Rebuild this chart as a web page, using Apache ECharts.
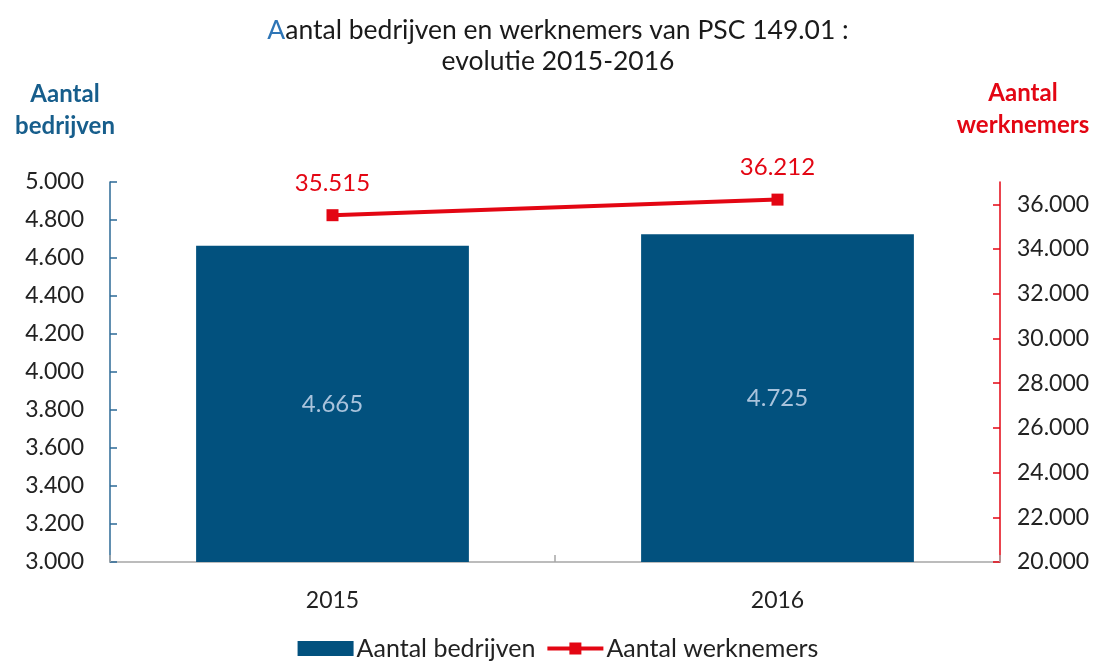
<!DOCTYPE html>
<html>
<head>
<meta charset="utf-8">
<script src="https://cdn.jsdelivr.net/npm/echarts@6/dist/echarts.min.js"></script>
<style>
  html, body { margin: 0; padding: 0; background: #fff; }
  #chart { width: 1116px; height: 666px; }
</style>
</head>
<body>
<div id="chart"></div>
<script>
// ── data ──
const years = ['2015', '2016'];
const bedrijven = [4665, 4725];
const werknemers = [35515, 36212];
const rightTicks = [20000, 22000, 24000, 26000, 28000, 30000, 32000, 34000, 36000];

const FONT = 'Lato, "Open Sans", sans-serif';
const BLUE = '#02517e';
const RED = '#e30613';

// 1234 -> "1.234"
const fmt = v => String(v).replace(/\B(?=(\d{3})+(?!\d))/g, '.');

const chart = echarts.init(document.getElementById('chart'));
chart.setOption({
  animation: false,
  textStyle: { fontFamily: FONT },
  title: {
    text: '{a|A}antal bedrijven en werknemers van PSC 149.01 :\nevolutie 2015-2016',
    left: 'center', top: 10,
    textStyle: {
      fontFamily: FONT, fontSize: 26.5, fontWeight: 'normal', color: '#1a1a1a', lineHeight: 31,
      rich: { a: { color: '#2e75b6', fontSize: 26.5, fontFamily: FONT } }
    }
  },
  grid: { left: 110, right: 116, top: 182, bottom: 104 },
  legend: {
    bottom: 0, left: 'center', itemGap: 10,
    textStyle: { fontFamily: FONT, fontSize: 25, color: '#222', padding: [0, 0, 0, -2] },
    data: [
      { name: 'Aantal bedrijven', icon: 'rect', itemStyle: { color: BLUE } },
      { name: 'Aantal werknemers', lineStyle: { width: 4, color: RED } }
    ],
    itemWidth: 56, itemHeight: 15
  },
  xAxis: {
    type: 'category', data: years,
    axisLine: { lineStyle: { color: '#a6a6a6', width: 1.5 } },
    axisTick: { show: true, inside: true, length: 7, lineStyle: { color: '#a6a6a6', width: 1.5 } },
    axisLabel: { fontSize: 23, color: '#222', margin: 27, fontFamily: FONT }
  },
  yAxis: [
    {
      type: 'value', min: 3000, max: 5000, interval: 200,
      name: 'Aantal\nbedrijven', nameLocation: 'end', nameGap: 0,
      nameTextStyle: { fontSize: 24, fontWeight: 'bold', color: '#175e8c', align: 'center', lineHeight: 32, padding: [0, 90, 28, 0], fontFamily: FONT },
      axisLine: { show: true, lineStyle: { color: '#2d6a96', width: 1.5 } },
      axisTick: { show: true, inside: true, length: 7, lineStyle: { color: '#2d6a96', width: 1.5 } },
      axisLabel: { fontSize: 23, color: '#222', margin: 26, formatter: fmt, fontFamily: FONT },
      splitLine: { show: false }
    },
    {
      type: 'value', min: 20000, max: 37000, interval: 2000, position: 'right',
      name: 'Aantal\nwerknemers', nameLocation: 'end', nameGap: 0,
      nameTextStyle: { fontSize: 24, fontWeight: 'bold', color: RED, align: 'center', lineHeight: 32, padding: [0, 0, 41, 46], fontFamily: FONT },
      axisLine: { show: true, lineStyle: { color: RED, width: 1.5 } },
      axisTick: { show: true, inside: true, length: 7, customValues: rightTicks, lineStyle: { color: RED, width: 1.5 } },
      axisLabel: { fontSize: 23, color: '#222', margin: 17, formatter: fmt, customValues: rightTicks, fontFamily: FONT },
      splitLine: { show: false }
    }
  ],
  series: [
    {
      name: 'Aantal bedrijven', type: 'bar', data: bedrijven, yAxisIndex: 0,
      barWidth: '61.3%',
      itemStyle: { color: BLUE },
      label: { show: true, position: 'inside', color: '#a9c3dc', fontSize: 24, formatter: p => fmt(p.value), fontFamily: FONT }
    },
    {
      name: 'Aantal werknemers', type: 'line', data: werknemers, yAxisIndex: 1,
      symbol: 'rect', symbolSize: 12,
      lineStyle: { color: RED, width: 4 },
      itemStyle: { color: RED },
      label: { show: true, position: 'top', distance: 14, color: RED, fontSize: 24, formatter: p => fmt(p.value), fontFamily: FONT }
    }
  ]
});
</script>
</body>
</html>
